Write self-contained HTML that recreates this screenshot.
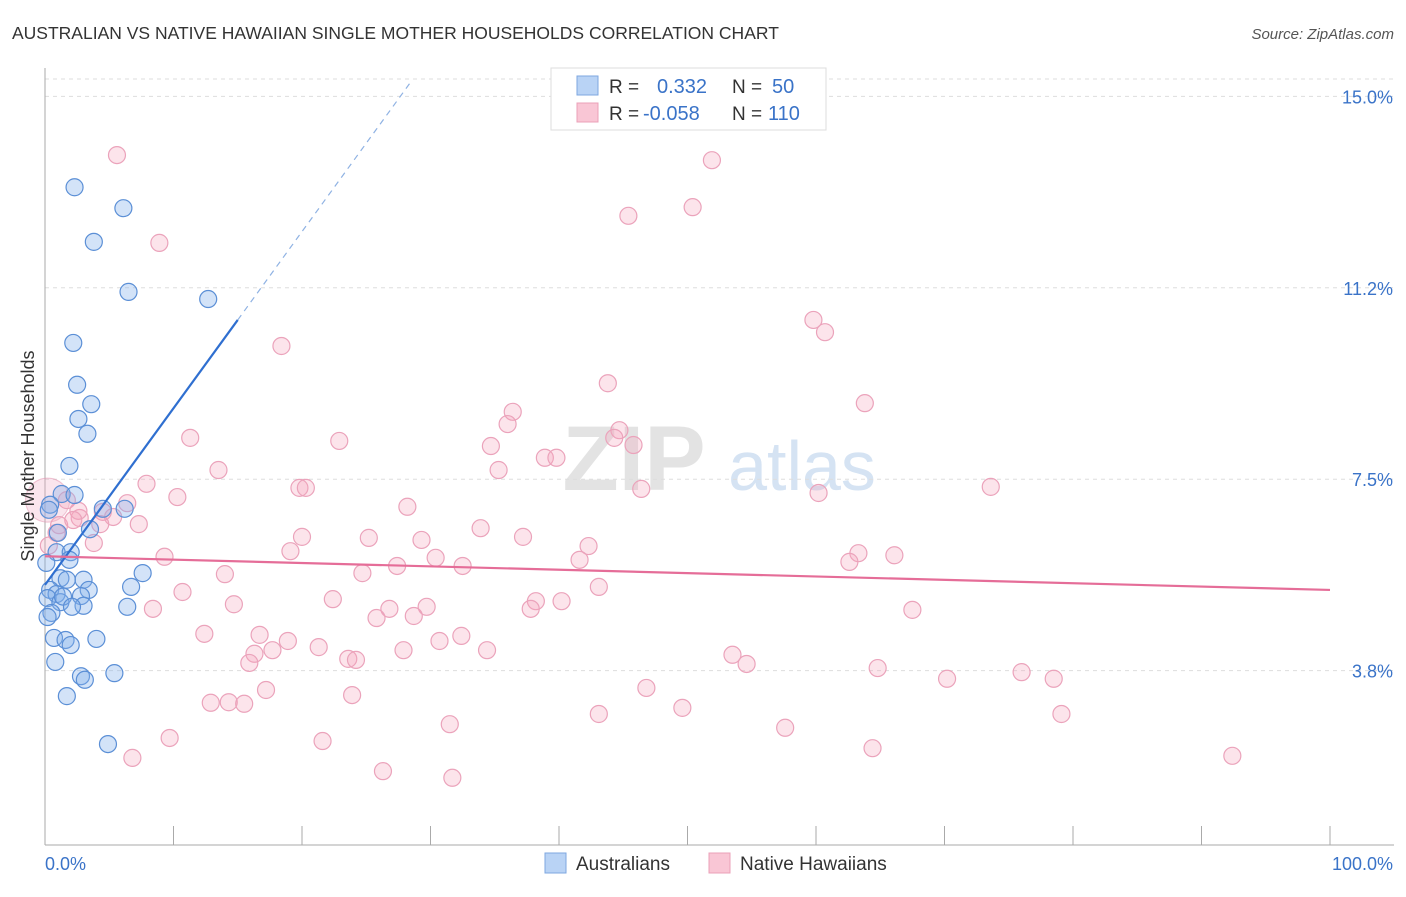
<!DOCTYPE html>
<html><head><meta charset="utf-8"><style>
body{margin:0;background:#fff;font-family:"Liberation Sans",sans-serif;}
svg text{font-family:"Liberation Sans",sans-serif;}
</style></head><body>
<svg width="1406" height="892" viewBox="0 0 1406 892" xmlns="http://www.w3.org/2000/svg">
<text x="12" y="39" font-size="17.5" fill="#333">AUSTRALIAN VS NATIVE HAWAIIAN SINGLE MOTHER HOUSEHOLDS CORRELATION CHART</text>
<text x="1394" y="39" font-size="15" fill="#555" text-anchor="end" font-style="italic">Source: ZipAtlas.com</text>
<g>
<text x="634" y="490" font-size="92" fill="#e3e3e3" text-anchor="middle" font-family="Liberation Serif" font-weight="bold">ZIP</text>
<text x="802" y="490" font-size="70" fill="#d5e3f3" text-anchor="middle">atlas</text>
</g>
<g id="grid"></g>
<g id="axes"></g>
<g id="pts"></g>
<g id="trend"></g>
<text transform="translate(34,456) rotate(-90)" font-size="18" fill="#333" text-anchor="middle">Single Mother Households</text>
<g>
<rect x="551" y="68" width="275" height="62" fill="#fff" stroke="#ddd"/>
<rect x="577" y="76" width="21" height="19" fill="#b9d3f5" stroke="#7ea7e0"/>
<rect x="577" y="103" width="21" height="19" fill="#f9c6d5" stroke="#eba0b8"/>
<text x="609" y="93" font-size="19" fill="#333">R =</text>
<text x="657" y="93" font-size="20" fill="#3a73c8">0.332</text>
<text x="732" y="93" font-size="19" fill="#333">N =</text>
<text x="772" y="93" font-size="20" fill="#3a73c8">50</text>
<text x="609" y="120" font-size="19" fill="#333">R =</text>
<text x="643" y="120" font-size="20" fill="#3a73c8">-0.058</text>
<text x="732" y="120" font-size="19" fill="#333">N =</text>
<text x="768" y="120" font-size="20" fill="#3a73c8">110</text>
</g>
<g>
<rect x="545" y="853" width="21" height="20" fill="#b9d3f5" stroke="#7ea7e0"/>
<text x="576" y="870" font-size="19" fill="#333">Australians</text>
<rect x="709" y="853" width="21" height="20" fill="#f9c6d5" stroke="#eba0b8"/>
<text x="740" y="870" font-size="19" fill="#333">Native Hawaiians</text>
</g>
</svg>
<script>
const yTicks=[3.75,7.5,11.25,15];
const yTickLabels=["3.8%","7.5%","11.2%","15.0%"];
const xTickLabels=["0.0%","100.0%"];
const blueX=[2.3,6.1,3.8,6.5,12.7,2.2,2.5,3.6,2.6,3.3,1.9,1.3,2.3,0.4,3.5,6.2,4.5,1.0,0.9,2.0,1.9,7.6,1.2,1.7,3.0,6.7,0.4,0.9,3.4,2.8,0.2,1.2,3.0,6.4,0.5,0.7,1.6,2.0,4.0,0.8,2.8,3.1,5.4,1.7,4.9,0.1,0.2,1.4,0.3,2.1];
const blueY=[13.22,12.81,12.15,11.17,11.03,10.17,9.35,8.97,8.68,8.39,7.76,7.21,7.19,7.0,6.52,6.92,6.92,6.45,6.07,6.07,5.92,5.66,5.56,5.53,5.53,5.39,5.33,5.25,5.33,5.21,5.17,5.09,5.02,5.0,4.88,4.39,4.35,4.25,4.37,3.92,3.64,3.57,3.70,3.25,2.31,5.86,4.8,5.2,6.9,5.0];
const pinkX=[5.6,8.9,18.4,51.9,45.4,50.4,59.8,60.7,43.8,63.8,36.4,36.0,44.7,44.3,45.8,34.7,22.9,11.3,38.9,39.8,13.5,35.3,7.9,10.3,19.8,20.3,46.4,60.2,73.6,28.2,6.4,5.3,4.5,2.7,2.6,4.3,7.3,1.1,1.7,33.9,3.8,20.0,25.2,29.3,37.2,42.3,19.1,9.3,30.4,32.5,27.4,41.6,63.3,66.1,62.6,14.0,24.7,43.1,10.7,22.4,38.2,40.2,14.7,8.4,26.8,29.7,37.8,25.8,28.7,67.5,12.4,16.7,18.9,30.7,32.4,21.3,27.9,34.4,16.3,17.7,53.5,15.9,23.6,24.2,54.6,64.8,76.0,70.2,78.5,17.2,23.9,46.8,12.9,14.3,15.5,49.6,43.1,79.1,31.5,9.7,21.6,57.6,64.4,92.4,6.8,26.3,31.7,0.9,0.3,2.2];
const pinkY=[13.85,12.13,10.11,13.75,12.66,12.83,10.62,10.38,9.38,8.99,8.82,8.58,8.46,8.31,8.17,8.15,8.25,8.31,7.92,7.92,7.68,7.68,7.41,7.15,7.33,7.33,7.31,7.23,7.35,6.96,7.03,6.76,6.86,6.74,6.88,6.62,6.62,6.6,7.09,6.54,6.25,6.37,6.35,6.31,6.37,6.19,6.09,5.98,5.96,5.80,5.80,5.92,6.05,6.01,5.88,5.64,5.66,5.39,5.29,5.15,5.11,5.11,5.05,4.96,4.96,5.0,4.96,4.78,4.82,4.94,4.47,4.45,4.33,4.33,4.43,4.21,4.15,4.15,4.08,4.15,4.06,3.90,3.98,3.96,3.88,3.80,3.72,3.59,3.59,3.37,3.27,3.41,3.12,3.13,3.10,3.02,2.90,2.90,2.70,2.43,2.37,2.63,2.23,2.08,2.04,1.78,1.65,6.45,6.2,6.7];
const blueTrendX=[0,15];const blueTrendY=[5.43,10.62];
const blueDashX=[15,28.4];const blueDashY=[10.62,15.26];
const pinkTrendX=[0,100];const pinkTrendY=[5.99,5.33];
const NS="http://www.w3.org/2000/svg";
const xs=v=>45+v*12.85, ys=v=>862-v*51.04;
function mk(p,t,a){const e=document.createElementNS(NS,t);for(const k in a)e.setAttribute(k,a[k]);p.appendChild(e);return e;}
const grid=document.getElementById('grid'),axes=document.getElementById('axes'),pts=document.getElementById('pts'),tr=document.getElementById('trend');
yTicks.forEach((t,i)=>{const l=mk(grid,'line',{x1:45,x2:1394,y1:ys(t),y2:ys(t),stroke:'#ddd','stroke-dasharray':'4,4'});

const tx=mk(axes,'text',{x:1393,y:ys(t)+7,'font-size':18,fill:'#3a73c8','text-anchor':'end'});tx.textContent=yTickLabels[i];
});
const gtop=mk(grid,'line',{x1:45,x2:1394,y1:79,y2:79,stroke:'#ddd','stroke-dasharray':'4,4'});

const ya=mk(axes,'line',{x1:45,x2:45,y1:68,y2:845,stroke:'#aaa'});
const xa=mk(axes,'line',{x1:45,x2:1394,y1:845,y2:845,stroke:'#aaa'});
for(let i=0;i<=10;i++){const t=mk(axes,'line',{x1:xs(i*10),x2:xs(i*10),y1:826,y2:845,stroke:'#aaa'});}
const x0=mk(axes,'text',{x:45,y:870,'font-size':18,fill:'#3a73c8'});x0.textContent=xTickLabels[0];
const x1=mk(axes,'text',{x:1393,y:870,'font-size':18,fill:'#3a73c8','text-anchor':'end'});x1.textContent=xTickLabels[1];
const big=mk(pts,'circle',{cx:xs(0.2),cy:ys(7.09),r:22,fill:'rgba(240,170,195,0.3)',stroke:'rgba(225,140,170,0.5)'});

pinkX.forEach((v,i)=>{const c=mk(pts,'circle',{cx:xs(v),cy:ys(pinkY[i]),r:8.5,fill:'rgba(245,165,190,0.3)',stroke:'#eba3bb','stroke-width':1.2});
});
blueX.forEach((v,i)=>{const c=mk(pts,'circle',{cx:xs(v),cy:ys(blueY[i]),r:8.5,fill:'rgba(130,175,235,0.35)',stroke:'#5b8fd6','stroke-width':1.2});
});
const b=mk(tr,'line',{x1:xs(blueTrendX[0]),y1:ys(blueTrendY[0]),x2:xs(blueTrendX[1]),y2:ys(blueTrendY[1]),stroke:'#2f6fd0','stroke-width':2.2});

const bd=mk(tr,'line',{x1:xs(blueDashX[0]),y1:ys(blueDashY[0]),x2:xs(blueDashX[1]),y2:ys(blueDashY[1]),stroke:'#8fb2e3','stroke-width':1.2,'stroke-dasharray':'6,5'});

const p=mk(tr,'line',{x1:xs(pinkTrendX[0]),y1:ys(pinkTrendY[0]),x2:xs(pinkTrendX[1]),y2:ys(pinkTrendY[1]),stroke:'#e56d98','stroke-width':2.2});

</script>
</body></html>
